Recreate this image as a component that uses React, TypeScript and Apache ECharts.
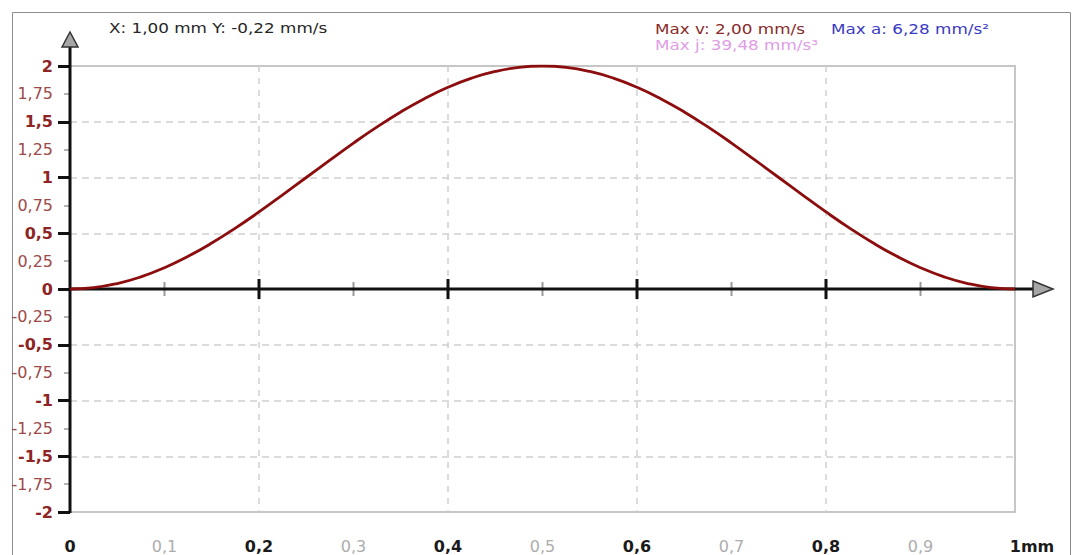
import React, { useEffect, useRef } from "react";
import * as echarts from "echarts";

const positionMm = [
  0, 0.025, 0.05, 0.075, 0.1, 0.125, 0.15, 0.175, 0.2, 0.225, 0.25, 0.275, 0.3, 0.325, 0.35, 0.375, 0.4, 0.425, 0.45, 0.475, 0.5,
  0.525, 0.55, 0.575, 0.6, 0.625, 0.65, 0.675, 0.7, 0.725, 0.75, 0.775, 0.8, 0.825, 0.85, 0.875, 0.9, 0.925, 0.95, 0.975, 1,
];
const velocity = [
  0, 0.012, 0.049, 0.109, 0.191, 0.293, 0.412, 0.546, 0.691, 0.844, 1.0, 1.156, 1.309, 1.454, 1.588, 1.707, 1.809, 1.891, 1.951, 1.988, 2.0,
  1.988, 1.951, 1.891, 1.809, 1.707, 1.588, 1.454, 1.309, 1.156, 1.0, 0.844, 0.691, 0.546, 0.412, 0.293, 0.191, 0.109, 0.049, 0.012, 0,
];
const majorTicksX = [0.2, 0.4, 0.6, 0.8];
const minorTicksX = [0.1, 0.3, 0.5, 0.7, 0.9];

const headerText = "X: 1,00 mm Y: -0,22 mm/s";
const maxV = "Max v: 2,00 mm/s";
const maxA = "Max a: 6,28 mm/s²";
const maxJ = "Max j: 39,48 mm/s³";

const FONT = '"DejaVu Sans", Verdana, sans-serif';

function fmt(v: number): string {
  return String(Math.round(v * 100) / 100).replace(".", ",");
}

export default function App() {
  const ref = useRef<HTMLDivElement>(null);
  useEffect(() => {
    if (!ref.current) return;
    const chart = echarts.init(ref.current, undefined, { renderer: "svg" });
    const tickData = [
      ...majorTicksX.map((x) => [x, 1]),
      ...minorTicksX.map((x) => [x, 0]),
    ];
    chart.setOption({
      animation: false,
      grid: {
        left: 70,
        right: 63,
        top: 66,
        bottom: 43,
        show: true,
        borderColor: "#c6c6c6",
        borderWidth: 2,
        backgroundColor: "transparent",
      },
      xAxis: [
        {
          type: "value",
          min: 0,
          max: 1,
          interval: 0.1,
          position: "bottom",
          axisLine: { show: false, onZero: false },
          axisTick: { show: false },
          splitLine: { show: false },
          axisLabel: {
            margin: 26,
            fontFamily: FONT,
            formatter: (v: number) => {
              const r = Math.round(v * 10);
              if (r === 10) return "{pad| }{maj|1mm}";
              if (r % 2 === 0) return "{maj|" + fmt(v) + "}";
              return "{min|" + fmt(v) + "}";
            },
            rich: {
              maj: { fontFamily: FONT, fontSize: 16, fontWeight: "bold", color: "#1a1a1a" },
              min: { fontFamily: FONT, fontSize: 16, color: "#adadad" },
              pad: { width: 34, fontSize: 16 },
            },
          },
        },
        {
          type: "value",
          min: 0,
          max: 1,
          interval: 0.2,
          position: "top",
          axisLine: { show: false, onZero: false },
          axisTick: { show: false },
          axisLabel: { show: false },
          splitLine: {
            show: true,
            showMinLine: false,
            showMaxLine: false,
            lineStyle: { color: "#d0d0d0", type: [6, 6], width: 1.5 },
          },
        },
      ],
      yAxis: [
        {
          type: "value",
          min: -2,
          max: 2,
          interval: 0.5,
          position: "left",
          axisLine: { show: false, onZero: false },
          axisLabel: { show: false },
          axisTick: { show: true, length: 12, lineStyle: { color: "#111", width: 3 } },
          minorTick: { show: true, splitNumber: 2, length: 6, lineStyle: { color: "#b5b5b5", width: 2 } },
          splitLine: {
            show: true,
            showMinLine: false,
            showMaxLine: false,
            lineStyle: { color: "#cfcfcf", type: [7, 5], width: 1.5 },
          },
        },
        {
          type: "value",
          min: -2,
          max: 2,
          interval: 0.25,
          position: "left",
          axisLine: { show: false, onZero: false },
          axisTick: { show: false },
          splitLine: { show: false },
          axisLabel: {
            margin: 17,
            fontFamily: FONT,
            formatter: (v: number) => {
              const r = Math.round(v * 4);
              if (r % 2 === 0) return "{maj|" + fmt(v) + "}";
              return "{min|" + fmt(v) + "}";
            },
            rich: {
              maj: { fontFamily: FONT, fontSize: 16, fontWeight: "bold", color: "#8e2424" },
              min: { fontFamily: FONT, fontSize: 16, color: "#9c4a4a" },
            },
          },
        },
      ],
      series: [
        {
          type: "custom",
          xAxisIndex: 0,
          yAxisIndex: 0,
          silent: true,
          z: 1,
          data: tickData,
          renderItem: (_p: any, api: any) => {
            const pt = api.coord([api.value(0), 0]);
            const major = api.value(1) === 1;
            const h = major ? 10 : 7;
            return {
              type: "line",
              shape: { x1: pt[0], y1: pt[1] - h, x2: pt[0], y2: pt[1] + h },
              style: { stroke: major ? "#111" : "#9a9a9a", lineWidth: major ? 3 : 2 },
            };
          },
        },
        {
          type: "line",
          xAxisIndex: 0,
          yAxisIndex: 0,
          data: positionMm.map((x, i) => [x, velocity[i]]),
          smooth: 0.5,
          showSymbol: false,
          z: 5,
          lineStyle: { color: "#8b0d0d", width: 2.8 },
        },
      ],
    });

    const finder = { xAxisIndex: 0, yAxisIndex: 0 };
    const o = chart.convertToPixel(finder as any, [0, 0]) as number[];
    const xe = chart.convertToPixel(finder as any, [1, 0]) as number[];
    const yt = chart.convertToPixel(finder as any, [0, 2]) as number[];
    const yb = chart.convertToPixel(finder as any, [0, -2]) as number[];

    const headStyle = (text: string, fill: string) => ({
      text,
      fontFamily: FONT,
      fontSize: 14,
      fill,
      verticalAlign: "middle",
    });

    chart.setOption({
      graphic: [
        {
          type: "rect",
          z: 0,
          silent: true,
          shape: { x: 12.5, y: 12.5, width: 1058, height: 600 },
          style: { fill: "none", stroke: "#8c8c8c", lineWidth: 1 },
        },
        {
          type: "line",
          z: 3,
          silent: true,
          shape: { x1: o[0], y1: o[1], x2: xe[0] + 20, y2: o[1] },
          style: { stroke: "#111", lineWidth: 3 },
        },
        {
          type: "polygon",
          z: 3,
          silent: true,
          shape: {
            points: [
              [xe[0] + 18, o[1] - 8],
              [xe[0] + 38, o[1]],
              [xe[0] + 18, o[1] + 8],
            ],
          },
          style: { fill: "#a6a6a6", stroke: "#333", lineWidth: 1.5 },
        },
        {
          type: "line",
          z: 3,
          silent: true,
          shape: { x1: yb[0], y1: yb[1] + 1, x2: yt[0], y2: yt[1] - 20 },
          style: { stroke: "#111", lineWidth: 3 },
        },
        {
          type: "polygon",
          z: 3,
          silent: true,
          shape: {
            points: [
              [yt[0] - 8, yt[1] - 19],
              [yt[0], yt[1] - 34],
              [yt[0] + 8, yt[1] - 19],
            ],
          },
          style: { fill: "#a6a6a6", stroke: "#333", lineWidth: 1.5 },
        },
        { type: "text", z: 4, x: 109, y: 28, scaleX: 1.2, style: headStyle(headerText, "#262626") },
        { type: "text", z: 4, x: 655, y: 29, scaleX: 1.2, style: headStyle(maxV, "#8a2a2a") },
        { type: "text", z: 4, x: 831, y: 29, scaleX: 1.2, style: headStyle(maxA, "#3a3ac4") },
        { type: "text", z: 4, x: 655, y: 45, scaleX: 1.2, style: headStyle(maxJ, "#e09de6") },
      ],
    });

    return () => chart.dispose();
  }, []);
  return (
    <div
      ref={ref}
      style={{ position: "absolute", left: 0, top: 0, width: 1078, height: 555, background: "#fff" }}
    />
  );
}
